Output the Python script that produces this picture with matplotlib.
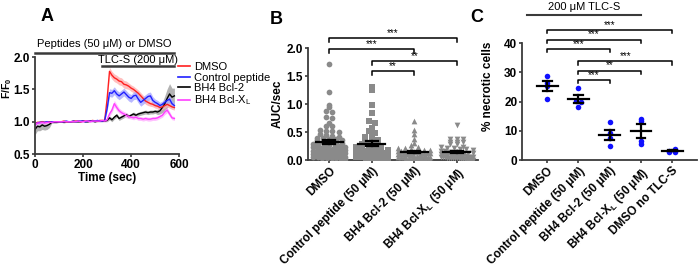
import numpy as np
import matplotlib
matplotlib.use("Agg")
import matplotlib.pyplot as plt

plt.rcParams['font.family'] = ['Liberation Sans', 'DejaVu Sans']
plt.rcParams['mathtext.default'] = 'regular'

# ---- Panel A: calcium traces (F/F0), sampled every 10 s ----
time_s = np.arange(0, 590, 10)
dmso_trace = [0.97, 0.99, 0.99, 1.00, 0.99, 0.99, 1.00,
              1.00, 1.00, 1.00, 1.00, 1.00, 1.01, 1.00, 1.00, 1.00, 1.01, 1.01, 1.01, 1.00,
              1.01, 1.01, 1.01, 1.01, 1.02, 1.01, 1.01, 1.02, 1.02, 1.02,
              1.35, 1.78, 1.72, 1.68, 1.66, 1.63, 1.62, 1.58, 1.57, 1.55, 1.52, 1.50, 1.47,
              1.44, 1.40, 1.36, 1.32, 1.30, 1.28, 1.27, 1.25, 1.24, 1.22, 1.23, 1.25, 1.27,
              1.25, 1.23, 1.22]
dmso_sem = [0.03, 0.02, 0.02, 0.02, 0.02, 0.02, 0.02,
            0.01, 0.01, 0.01, 0.01, 0.01, 0.01, 0.01, 0.01, 0.01, 0.01, 0.01, 0.01, 0.01,
            0.01, 0.01, 0.01, 0.01, 0.01, 0.01, 0.01, 0.01, 0.01, 0.01,
            0.04, 0.06, 0.06, 0.06, 0.06, 0.06, 0.06, 0.06, 0.06, 0.05, 0.05, 0.05, 0.05,
            0.05, 0.05, 0.05, 0.05, 0.05, 0.04, 0.04, 0.04, 0.04, 0.04, 0.04, 0.04, 0.04,
            0.04, 0.04, 0.04]
ctrl_trace = [0.96, 0.98, 0.99, 0.99, 0.99, 1.00, 0.99,
              1.00, 1.00, 1.00, 1.00, 1.00, 1.00, 1.01, 1.00, 1.00, 1.01, 1.00, 1.01, 1.01,
              1.01, 1.00, 1.01, 1.01, 1.01, 1.01, 1.02, 1.01, 1.01, 1.02,
              1.20, 1.45, 1.44, 1.48, 1.43, 1.40, 1.43, 1.46, 1.42, 1.38, 1.36, 1.40, 1.41,
              1.35, 1.30, 1.33, 1.36, 1.39, 1.40, 1.33, 1.30, 1.28, 1.25, 1.27, 1.30, 1.33,
              1.35, 1.28, 1.25]
ctrl_sem = [0.03, 0.02, 0.02, 0.02, 0.02, 0.02, 0.02,
            0.01, 0.01, 0.01, 0.01, 0.01, 0.01, 0.01, 0.01, 0.01, 0.01, 0.01, 0.01, 0.01,
            0.01, 0.01, 0.01, 0.01, 0.01, 0.01, 0.01, 0.01, 0.01, 0.01,
            0.04, 0.06, 0.06, 0.06, 0.06, 0.06, 0.06, 0.06, 0.06, 0.06, 0.06, 0.06, 0.06,
            0.06, 0.06, 0.06, 0.06, 0.06, 0.06, 0.06, 0.05, 0.05, 0.05, 0.05, 0.05, 0.05,
            0.05, 0.05, 0.05]
bcl2_trace = [0.88, 0.93, 0.92, 0.95, 0.93, 0.94, 0.96,
              0.99, 0.99, 0.99, 1.00, 1.00, 0.99, 1.00, 1.00, 1.00, 1.00, 1.00, 1.00, 1.00,
              1.01, 1.00, 1.00, 1.01, 1.01, 1.00, 1.01, 1.01, 1.01, 1.01,
              1.02, 1.06, 1.03, 1.07, 1.10, 1.05, 1.07, 1.09, 1.11, 1.08, 1.10, 1.12, 1.10,
              1.12, 1.13, 1.14, 1.15, 1.14, 1.15, 1.15, 1.16, 1.15, 1.17, 1.22, 1.28, 1.36,
              1.43, 1.38, 1.40]
bcl2_sem = [0.08, 0.07, 0.06, 0.07, 0.06, 0.06, 0.05,
            0.01, 0.01, 0.01, 0.01, 0.01, 0.01, 0.01, 0.01, 0.01, 0.01, 0.01, 0.01, 0.01,
            0.01, 0.01, 0.01, 0.01, 0.01, 0.01, 0.01, 0.01, 0.01, 0.01,
            0.02, 0.03, 0.03, 0.03, 0.03, 0.03, 0.03, 0.03, 0.03, 0.03, 0.03, 0.03, 0.03,
            0.03, 0.03, 0.03, 0.03, 0.03, 0.03, 0.03, 0.03, 0.04, 0.05, 0.08, 0.12, 0.15,
            0.16, 0.14, 0.12]
bclxl_trace = [0.95, 0.98, 0.98, 0.99, 0.98, 0.99, 0.99,
               0.99, 1.00, 1.00, 1.00, 1.00, 1.00, 1.00, 1.00, 1.00, 1.00, 1.00, 1.01, 1.00,
               1.00, 1.01, 1.01, 1.00, 1.01, 1.01, 1.01, 1.01, 1.02, 1.01,
               1.03, 1.12, 1.18, 1.28, 1.22, 1.17, 1.14, 1.12, 1.10, 1.08, 1.07, 1.06, 1.07,
               1.05, 1.05, 1.04, 1.05, 1.04, 1.04, 1.05, 1.05, 1.06, 1.08, 1.10, 1.15, 1.18,
               1.12, 1.06, 1.05]
bclxl_sem = [0.03, 0.02, 0.02, 0.02, 0.02, 0.02, 0.02,
             0.01, 0.01, 0.01, 0.01, 0.01, 0.01, 0.01, 0.01, 0.01, 0.01, 0.01, 0.01, 0.01,
             0.01, 0.01, 0.01, 0.01, 0.01, 0.01, 0.01, 0.01, 0.01, 0.01,
             0.02, 0.04, 0.04, 0.05, 0.05, 0.04, 0.04, 0.04, 0.04, 0.03, 0.03, 0.03, 0.03,
             0.03, 0.03, 0.03, 0.03, 0.03, 0.03, 0.03, 0.03, 0.03, 0.03, 0.03, 0.04, 0.04,
             0.04, 0.03, 0.03]
trace_labels = ["DMSO", "Control peptide", "BH4 Bcl-2", "BH4 Bcl-X$_L$"]

# ---- Panel B: AUC/sec per cell ----
b_categories = ["DMSO", "Control peptide (50 μM)", "BH4 Bcl-2 (50 μM)", "BH4 Bcl-X$_L$ (50 μM)"]
auc_dmso = [1.72, 1.21, 0.98, 0.95, 0.87, 0.86, 0.77, 0.75, 0.67, 0.61, 0.60, 0.53, 0.52, 0.52, 0.51,
            0.46, 0.45, 0.43, 0.42, 0.40, 0.39, 0.38, 0.37, 0.36, 0.35, 0.33, 0.32, 0.31, 0.30,
            0.29, 0.28, 0.27, 0.27, 0.26, 0.25, 0.24, 0.23, 0.23, 0.22, 0.21, 0.20, 0.20, 0.19,
            0.18, 0.18, 0.17, 0.16, 0.16, 0.15, 0.14, 0.14, 0.13, 0.12, 0.12, 0.11, 0.11, 0.10,
            0.09, 0.09, 0.08, 0.08, 0.07, 0.06, 0.06, 0.05, 0.05, 0.04, 0.04, 0.03, 0.03, 0.02, 0.02]
auc_ctrl = [1.30, 1.25, 0.98, 0.84, 0.70, 0.67, 0.57, 0.52, 0.48,
            0.44, 0.41, 0.38, 0.36, 0.34, 0.31, 0.30, 0.28, 0.27, 0.25, 0.24, 0.23, 0.22, 0.21,
            0.20, 0.19, 0.18, 0.17, 0.16, 0.16, 0.15, 0.14, 0.13, 0.12, 0.12, 0.11, 0.10, 0.09,
            0.09, 0.08, 0.07, 0.07, 0.06, 0.05, 0.05, 0.04, 0.04, 0.03, 0.03, 0.02]
auc_bcl2 = [0.70, 0.54, 0.46, 0.37, 0.30, 0.27, 0.24,
            0.22, 0.21, 0.20, 0.19, 0.18, 0.18, 0.17, 0.16, 0.16, 0.15, 0.15, 0.14, 0.14, 0.13,
            0.13, 0.12, 0.12, 0.11, 0.11, 0.10, 0.10, 0.10, 0.09, 0.09, 0.08, 0.08, 0.08, 0.07,
            0.07, 0.06, 0.06, 0.06, 0.05, 0.05, 0.05, 0.04, 0.04, 0.04, 0.03, 0.03, 0.03, 0.02,
            0.02, 0.01, 0.01]
auc_bclxl = [0.62, 0.37, 0.37, 0.37, 0.33, 0.33, 0.33, 0.28, 0.28,
             0.24, 0.23, 0.22, 0.21, 0.20, 0.19, 0.18, 0.17, 0.16, 0.15, 0.14, 0.14, 0.13, 0.12,
             0.12, 0.11, 0.11, 0.10, 0.10, 0.09, 0.09, 0.08, 0.08, 0.08, 0.07, 0.07, 0.06, 0.06,
             0.06, 0.05, 0.05, 0.05, 0.04, 0.04, 0.04, 0.03, 0.03, 0.03, 0.03, 0.02, 0.02, 0.02,
             0.01, 0.01, 0.01, 0.01]
b_sig = [(0, 3, "***"), (0, 2, "***"), (1, 3, "**"), (1, 2, "**")]
b_sig_y = [2.18, 1.99, 1.77, 1.59]

# ---- Panel C: % necrotic cells ----
c_categories = ["DMSO", "Control peptide (50 μM)", "BH4 Bcl-2 (50 μM)",
                "BH4 Bcl-X$_L$ (50 μM)", "DMSO no TLC-S"]
necrotic = [[28.8, 26.4, 25.4, 21.0],
            [24.6, 20.2, 20.0, 18.1],
            [13.0, 9.2, 7.5, 4.8],
            [14.2, 13.4, 6.5, 5.6],
            [3.2, 2.8, 2.9, 3.9]]
c_sig = [(0, 4, "***"), (0, 3, "***"), (0, 2, "***"), (1, 4, "***"), (1, 3, "**"), (1, 2, "***")]
c_sig_y = [44.6, 41.2, 38.1, 33.8, 30.6, 27.5]

AXC = '#3a3a3a'


def style_axes(ax):
    for s in ['top', 'right']:
        ax.spines[s].set_visible(False)
    for s in ['left', 'bottom']:
        ax.spines[s].set_color(AXC)
        ax.spines[s].set_linewidth(1.3)
    ax.tick_params(colors=AXC, width=1.2, length=2.5, labelsize=8.5, pad=1)
    for lab in ax.get_xticklabels() + ax.get_yticklabels():
        lab.set_fontweight('bold')
        lab.set_color('black')


def swarm_offsets(vals, row_h, step, max_w):
    vals = np.asarray(vals, dtype=float)
    offs = np.zeros(len(vals))
    rows = np.floor(vals / row_h).astype(int)
    for r in np.unique(rows):
        idx = np.where(rows == r)[0]
        n = len(idx)
        s = step
        if n > 1 and (n - 1) * step / 2 > max_w:
            s = 2 * max_w / (n - 1)
        offs[idx] = (np.arange(n) - (n - 1) / 2) * s
    return offs


def mean_sem(ax, x, vals, half_w, cap_w, lw=1.6):
    v = np.asarray(vals)
    m = v.mean()
    se = v.std(ddof=1) / np.sqrt(len(v))
    ax.plot([x - half_w, x + half_w], [m, m], color='black', lw=lw, zorder=5)
    ax.plot([x, x], [m - se, m + se], color='black', lw=lw, zorder=5)
    for yy in (m - se, m + se):
        ax.plot([x - cap_w, x + cap_w], [yy, yy], color='black', lw=lw, zorder=5)


def bracket(ax, x0, x1, y, drop, text, fs=7):
    ax.plot([x0, x0, x1, x1], [y - drop, y, y, y - drop], color='black', lw=1.1,
            clip_on=False)
    ax.text((x0 + x1) / 2, y, text, ha='center', va='bottom', fontsize=fs, clip_on=False)


fig = plt.figure(figsize=(7.0, 2.76), dpi=100)

# ---------------- Panel A ----------------
axA = fig.add_axes([0.05, 0.442, 0.206, 0.351])
colors = ['#ff2020', '#2020ff', '#000000', '#ff40ff']
bands = ['#ffb0b0', '#a8a8ff', '#a0a0a0', '#ffb0ff']
traces = [dmso_trace, ctrl_trace, bcl2_trace, bclxl_trace]
sems = [dmso_sem, ctrl_sem, bcl2_sem, bclxl_sem]
draw_order = [2, 0, 1, 3]
handles = [None] * 4
for i in draw_order:
    y = np.array(traces[i])
    e = np.array(sems[i])
    axA.fill_between(time_s, y - e, y + e, color=bands[i], lw=0, alpha=0.8)
    handles[i], = axA.plot(time_s, y, color=colors[i], lw=1.0)
axA.set_xlim(0, 600)
axA.set_ylim(0.5, 2.0)
axA.set_xticks([0, 200, 400, 600])
axA.set_yticks([0.5, 1.0, 1.5, 2.0])
axA.set_xlabel("Time (sec)", fontsize=8.5, fontweight='bold', labelpad=1)
axA.set_ylabel("F/F$_0$", fontsize=7.5, fontweight='bold')
style_axes(axA)
axA.yaxis.set_label_coords(-0.145, 0.68)
leg = axA.legend(handles, trace_labels, loc='upper left', bbox_to_anchor=(0.99, 0.95),
                 frameon=False, fontsize=8, handlelength=1.1, handletextpad=0.4,
                 labelspacing=0.05, borderaxespad=0, borderpad=0)
for h in leg.legend_handles:
    h.set_linewidth(1.2)
axA.plot([0, 580], [2.06, 2.06], color=AXC, lw=1.8, clip_on=False)
axA.text(290, 2.13, "Peptides (50 μM) or DMSO", ha='center', va='bottom', fontsize=8)
axA.plot([279, 580], [1.86, 1.86], color=AXC, lw=1.8, clip_on=False)
axA.text(430, 1.885, "TLC-S (200 μM)", ha='center', va='bottom', fontsize=8)
fig.text(0.058, 0.94, "A", fontsize=13, fontweight='bold', va='center', ha='left')

# ---------------- Panel B ----------------
axB = fig.add_axes([0.44, 0.42, 0.243, 0.406])
markers = ['o', 's', '^', 'v']
auc_groups = [auc_dmso, auc_ctrl, auc_bcl2, auc_bclxl]
for i, vals in enumerate(auc_groups):
    offs = swarm_offsets(vals, 0.06, 0.15, 0.38)
    axB.scatter(i + offs, vals, marker=markers[i], s=17, color='#8a8a8a', lw=0, zorder=3)
    mean_sem(axB, i, vals, 0.32, 0.14)
axB.set_xlim(-0.5, 3.5)
axB.set_ylim(0, 2.0)
axB.set_yticks([0.0, 0.5, 1.0, 1.5, 2.0])
axB.set_xticks(range(4))
axB.set_xticklabels(b_categories, rotation=45, ha='right', rotation_mode='anchor',
                    fontsize=8.2)
axB.set_ylabel("AUC/sec", fontsize=8.5, fontweight='bold', labelpad=2)
style_axes(axB)
for (a, b, t), yy in zip(b_sig, b_sig_y):
    bracket(axB, a, b, yy, 0.07, t)
fig.text(0.385, 0.93, "B", fontsize=13, fontweight='bold', va='center', ha='left')

# ---------------- Panel C ----------------
axC = fig.add_axes([0.746, 0.42, 0.25, 0.424])
for i, vals in enumerate(necrotic):
    offs = swarm_offsets(vals, 1.5, 0.18, 0.3)
    axC.scatter(i + offs, vals, marker='o', s=16, color='#1010ff', lw=0, zorder=3)
    mean_sem(axC, i, vals, 0.33, 0.14)
axC.set_xlim(-0.8, 4.8)
axC.set_ylim(0, 40)
axC.set_yticks([0, 10, 20, 30, 40])
axC.set_xticks(range(5))
axC.set_xticklabels(c_categories, rotation=45, ha='right', rotation_mode='anchor',
                    fontsize=8.2)
axC.set_ylabel("% necrotic cells", fontsize=8.5, fontweight='bold')
style_axes(axC)
axC.yaxis.set_label_coords(-0.16, 0.63)
for (a, b, t), yy in zip(c_sig, c_sig_y):
    bracket(axC, a, b, yy, 1.2, t)
axC.plot([-0.64, 3.0], [49.5, 49.5], color=AXC, lw=1.5, clip_on=False)
axC.text(1.18, 50.5, "200 μM TLC-S", ha='center', va='bottom', fontsize=8)
fig.text(0.672, 0.935, "C", fontsize=13, fontweight='bold', va='center', ha='left')

fig.savefig("out.png", dpi=100)
